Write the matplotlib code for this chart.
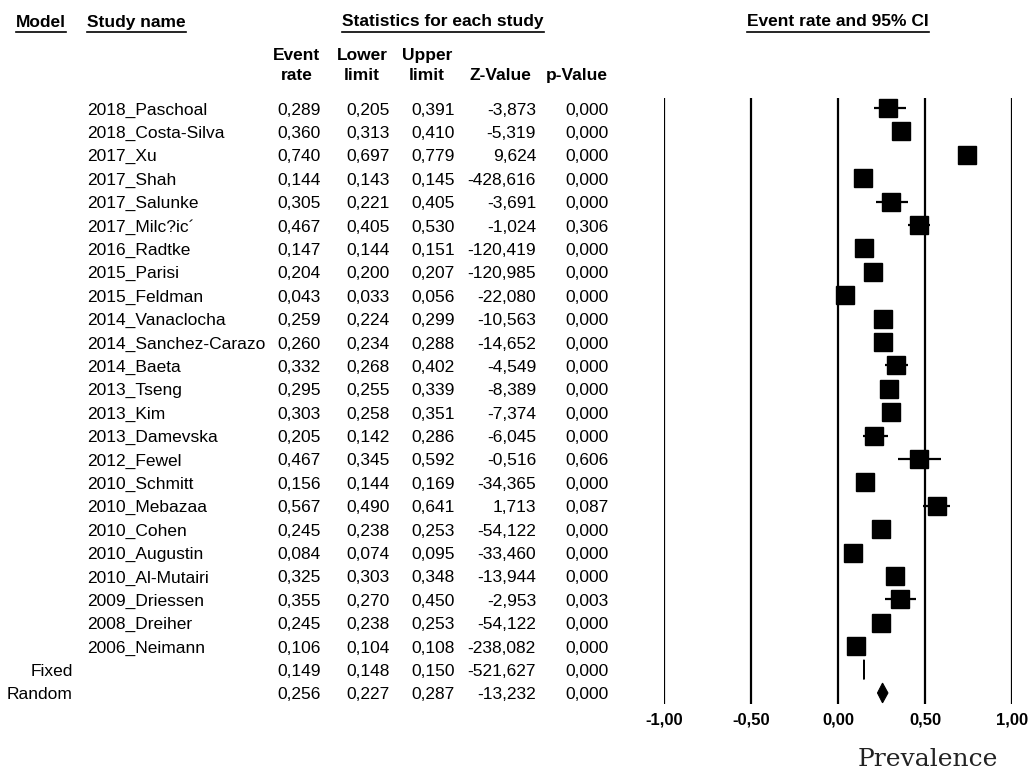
import numpy as np
import matplotlib
matplotlib.use("Agg")
import matplotlib.pyplot as plt
import matplotlib.transforms as mtransforms
from matplotlib.lines import Line2D

plt.rcParams['font.family'] = ['Liberation Sans', 'DejaVu Sans']

# ---------------- data ----------------
studies = ["2018_Paschoal", "2018_Costa-Silva", "2017_Xu", "2017_Shah", "2017_Salunke",
           "2017_Milc?ic\u00b4", "2016_Radtke", "2015_Parisi", "2015_Feldman", "2014_Vanaclocha",
           "2014_Sanchez-Carazo", "2014_Baeta", "2013_Tseng", "2013_Kim", "2013_Damevska",
           "2012_Fewel", "2010_Schmitt", "2010_Mebazaa", "2010_Cohen", "2010_Augustin",
           "2010_Al-Mutairi", "2009_Driessen", "2008_Dreiher", "2006_Neimann"]
event_rate = [0.289, 0.360, 0.740, 0.144, 0.305, 0.467, 0.147, 0.204, 0.043, 0.259,
              0.260, 0.332, 0.295, 0.303, 0.205, 0.467, 0.156, 0.567, 0.245, 0.084,
              0.325, 0.355, 0.245, 0.106]
lower = [0.205, 0.313, 0.697, 0.143, 0.221, 0.405, 0.144, 0.200, 0.033, 0.224,
         0.234, 0.268, 0.255, 0.258, 0.142, 0.345, 0.144, 0.490, 0.238, 0.074,
         0.303, 0.270, 0.238, 0.104]
upper = [0.391, 0.410, 0.779, 0.145, 0.405, 0.530, 0.151, 0.207, 0.056, 0.299,
         0.288, 0.402, 0.339, 0.351, 0.286, 0.592, 0.169, 0.641, 0.253, 0.095,
         0.348, 0.450, 0.253, 0.108]
z_value = [-3.873, -5.319, 9.624, -428.616, -3.691, -1.024, -120.419, -120.985, -22.080, -10.563,
           -14.652, -4.549, -8.389, -7.374, -6.045, -0.516, -34.365, 1.713, -54.122, -33.460,
           -13.944, -2.953, -54.122, -238.082]
p_value = [0.000, 0.000, 0.000, 0.000, 0.000, 0.306, 0.000, 0.000, 0.000, 0.000,
           0.000, 0.000, 0.000, 0.000, 0.000, 0.606, 0.000, 0.087, 0.000, 0.000,
           0.000, 0.003, 0.000, 0.000]

models = ["Fixed", "Random"]
model_rate = [0.149, 0.256]
model_lower = [0.148, 0.227]
model_upper = [0.150, 0.287]
model_z = [-521.627, -13.232]
model_p = [0.000, 0.000]

ticks = [-1.0, -0.5, 0.0, 0.5, 1.0]
tick_labels = ["-1,00", "-0,50", "0,00", "0,50", "1,00"]

# ---------------- layout ----------------
W, H = 1029, 770
FS = 12.5


def fx(x):
    return x / W


def fy(y):
    return 1 - y / H


def fmt(v):
    return f"{v:.3f}".replace('.', ',')


fig = plt.figure(figsize=(W / 100, H / 100), dpi=100)
n_rows = len(studies) + len(models)
ax = fig.add_axes([fx(664), fy(703.5), fx(1012) - fx(664), (703.5 - 97.5) / H])
ax.set_xlim(-1.0, 1.0)
ax.set_ylim(n_rows - 0.55, -0.45)
for s in ax.spines.values():
    s.set_visible(False)
ax.set_yticks([])
ax.set_xticks(ticks, tick_labels)
ax.tick_params(axis='x', length=0, pad=6.8, labelsize=12)
for lab in ax.get_xticklabels():
    lab.set_fontweight('bold')

for t in ticks:
    ax.axvline(t, color='black', lw=1.6, zorder=1)

# study squares and CI
ys = np.arange(len(studies))
ax.hlines(ys, lower, upper, color='black', lw=1.6, zorder=2)
ax.plot(event_rate, ys, 's', ms=12.7, color='black', zorder=3, clip_on=False)

# summary diamonds
h = 0.42
for i in range(len(models)):
    y = len(studies) + i
    xs = [model_lower[i], model_rate[i], model_upper[i], model_rate[i]]
    yd = [y, y - h, y, y + h]
    ax.fill(xs, yd, color='black', lw=1 if i == 0 else 0.8, zorder=3)

# ---------------- table text ----------------
row_tr = mtransforms.blended_transform_factory(fig.transFigure, ax.transData)
row_tr = mtransforms.offset_copy(row_tr, fig=fig, x=0, y=-6.5, units='dots')

col_right = [321, 390, 455, 536, 609]

for i, name in enumerate(studies):
    fig.text(fx(87), i, name, transform=row_tr, ha='left', va='baseline', fontsize=FS)
    vals = [fmt(event_rate[i]), fmt(lower[i]), fmt(upper[i]), fmt(z_value[i]), fmt(p_value[i])]
    for xr, v in zip(col_right, vals):
        fig.text(fx(xr), i, v, transform=row_tr, ha='right', va='baseline', fontsize=FS)

for j, name in enumerate(models):
    y = len(studies) + j
    fig.text(fx(73), y, name, transform=row_tr, ha='right', va='baseline', fontsize=FS)
    vals = [fmt(model_rate[j]), fmt(model_lower[j]), fmt(model_upper[j]), fmt(model_z[j]), fmt(model_p[j])]
    for xr, v in zip(col_right, vals):
        fig.text(fx(xr), y, v, transform=row_tr, ha='right', va='baseline', fontsize=FS)

# headers
underlined = [
    fig.text(fx(41), fy(27), "Model", ha='center', va='baseline', fontsize=FS, weight='bold'),
    fig.text(fx(87), fy(27), "Study name", ha='left', va='baseline', fontsize=FS, weight='bold'),
    fig.text(fx(443), fy(26), "Statistics for each study", ha='center', va='baseline',
             fontsize=FS, weight='bold'),
    fig.text(fx(838), fy(26), "Event rate and 95% CI", ha='center', va='baseline',
             fontsize=FS, weight='bold'),
]

sub_headers = [(297, "Event", "rate"), (362, "Lower", "limit"), (427, "Upper", "limit"),
               (500, None, "Z-Value"), (577, None, "p-Value")]
for xc, top, bottom in sub_headers:
    if top:
        fig.text(fx(xc), fy(60), top, ha='center', va='baseline', fontsize=FS, weight='bold')
    fig.text(fx(xc), fy(80), bottom, ha='center', va='baseline', fontsize=FS, weight='bold')

fig.text(fx(928), fy(766), "Prevalence", ha='center', va='baseline',
         fontsize=18, family='DejaVu Serif', color='#222222')

# underline the column headers
fig.canvas.draw()
renderer = fig.canvas.get_renderer()
for t in underlined:
    bb = t.get_window_extent(renderer)
    fig.add_artist(Line2D([bb.x0 / W, bb.x1 / W], [fy(32), fy(32)],
                          transform=fig.transFigure, color='black', lw=1.2))

fig.savefig("out.png", dpi=100)
